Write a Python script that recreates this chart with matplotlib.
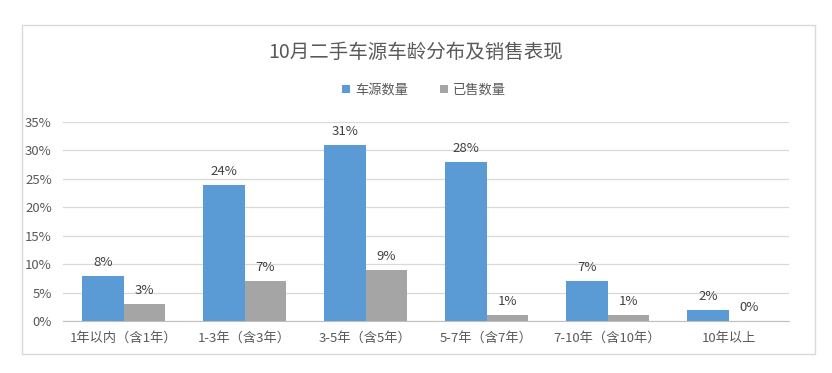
import matplotlib
matplotlib.use("Agg")
import matplotlib.pyplot as plt
from matplotlib.patches import Rectangle
import numpy as np

plt.rcParams['font.family'] = ['Noto Sans CJK SC', 'DejaVu Sans']

categories = ["1年以内（含1年）", "1-3年（含3年）", "3-5年（含5年）", "5-7年（含7年）", "7-10年（含10年）", "10年以上"]
supply = [8, 24, 31, 28, 7, 2]
sold = [3, 7, 9, 1, 1, 0]
series_names = ["车源数量", "已售数量"]
title = "10月二手车源车龄分布及销售表现"
yticks = [0, 5, 10, 15, 20, 25, 30, 35]

W, H = 832, 373
fig = plt.figure(figsize=(W / 100, H / 100), dpi=100)
fig.patch.set_facecolor("white")

# outer frame
fig.patches.append(Rectangle((22 / W, 1 - 354 / H), (815 - 22) / W, (354 - 25) / H,
                             transform=fig.transFigure, fill=False,
                             edgecolor="#D9D9D9", linewidth=1.0))

ax = fig.add_axes([63 / W, 52 / H, (789 - 63) / W, (251 - 52) / H])
txt = "#595959"
blue = "#5B9BD5"
gray = "#A5A5A5"

x = np.arange(len(categories))
bw = 0.34
b1 = ax.bar(x - bw / 2, supply, bw, color=blue, label=series_names[0], zorder=3)
b2 = ax.bar(x + bw / 2, sold, bw, color=gray, label=series_names[1], zorder=3)

for rects, vals in ((b1, supply), (b2, sold)):
    for r, v in zip(rects, vals):
        ax.annotate(f"{v}%", (r.get_x() + r.get_width() / 2, v), xytext=(0, 5),
                    textcoords="offset points", ha="center", va="bottom",
                    fontsize=9.5, color="#404040")

ax.set_xlim(-0.5, len(categories) - 0.5)
ax.set_ylim(0, 35)
ax.set_yticks(yticks)
ax.set_yticklabels([f"{t}%" for t in yticks], fontsize=9.5, color=txt)
ax.set_xticks(x)
ax.set_xticklabels(categories, fontsize=9.5, color=txt)
ax.tick_params(axis="both", length=0)
ax.tick_params(axis="y", pad=8)
ax.tick_params(axis="x", pad=8)
ax.yaxis.grid(True, color="#D9D9D9", linewidth=0.9, zorder=0)
for s in ["top", "right", "left"]:
    ax.spines[s].set_visible(False)
ax.spines["bottom"].set_color("#BFBFBF")
ax.set_facecolor("none")

fig.text(416 / W, 1 - 53 / H, title, ha="center", va="center", fontsize=14, color=txt)
fig.legend(handles=[b1, b2], labels=series_names, loc="center", bbox_to_anchor=(424 / W, 1 - 90 / H),
           ncol=2, frameon=False, fontsize=9.5, labelcolor=txt, handlelength=0.6, handleheight=0.6,
           handletextpad=0.4, columnspacing=2.4)

fig.savefig("out.png", dpi=100, facecolor="white")
